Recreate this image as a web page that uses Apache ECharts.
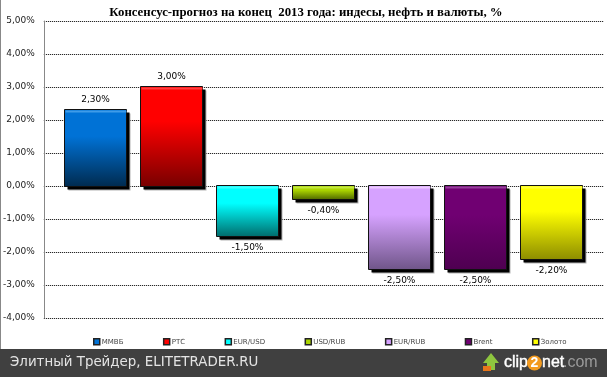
<!DOCTYPE html>
<html>
<head>
<meta charset="utf-8">
<style>
html, body { margin: 0; padding: 0; background: #fff; }
#chart { width: 607px; height: 377px; }
</style>
<script src="https://cdn.jsdelivr.net/npm/echarts@6/dist/echarts.min.js"></script>
</head>
<body>
<div id="chart"></div>
<script>
const chartTitle = 'Консенсус-прогноз на конец  2013 года: индесы, нефть и валюты, %'
const footerText = 'Элитный Трейдер, ELITETRADER.RU'
const categories = ['2013']
const names = ['ММВБ', 'РТС', 'EUR/USD', 'USD/RUB', 'EUR/RUB', 'Brent', 'Золото']
const values = [2.3, 3.0, -1.5, -0.4, -2.5, -2.5, -2.2]
const topColors = ['#0072d6', '#ff0000', '#00ffff', '#aad400', '#d6a2ff', '#700072', '#ffff00']
const bottomColors = ['#002a4e', '#770000', '#006a6a', '#4c6400', '#6f5588', '#4e0050', '#8c8c00']
const bevelColors = ['#3f9be8', '#ff4040', '#40ffff', '#c4e840', '#eccaff', '#94409a', '#ffff40']

const barWidth = 62
const barStep = 76

function percent(v) {
    return v.toFixed(2).replace('.', ',') + '%'
}

// bar with hard black shadow, a normal bar's shadow falls on top of its own fill
function drawBar(i) {
    return function (params, api) {
        let base = api.coord([api.value(0), 0])
        let end = api.coord([api.value(0), api.value(1)])
        let x = Math.round(base[0] + (i - 3) * barStep - barWidth / 2) - 0.5
        let y0 = Math.round(Math.min(base[1], end[1])) - 0.5
        let y1 = Math.round(Math.max(base[1], end[1])) + 0.5
        let h = y1 - y0
        let labelY = api.value(1) < 0 ? y1 + 11 : y0 - 10
        return {
            type: 'group',
            children: [
                { type: 'rect', shape: { x: x + 4, y: y0 + 4, width: barWidth, height: h }, style: { fill: '#b4b4b4' } },
                { type: 'rect', shape: { x: x + 3, y: y0 + 3, width: barWidth, height: h }, style: { fill: '#000' } },
                {
                    type: 'rect',
                    shape: { x: x, y: y0, width: barWidth, height: h },
                    style: {
                        fill: {
                            type: 'linear', x: 0, y: 0, x2: 0, y2: 1,
                            colorStops: [
                                { offset: 0, color: topColors[i] },
                                { offset: 0.35, color: topColors[i] },
                                { offset: 1, color: bottomColors[i] }
                            ]
                        },
                        stroke: '#111',
                        lineWidth: 1
                    }
                },
                { type: 'rect', shape: { x: x + 1, y: y0 + 1, width: barWidth - 1, height: 2 }, style: { fill: bevelColors[i] } },
                {
                    type: 'text',
                    style: {
                        text: percent(api.value(1)),
                        x: x + barWidth / 2,
                        y: labelY,
                        align: 'center',
                        verticalAlign: 'middle',
                        font: '9px "DejaVu Sans"',
                        fill: '#000'
                    }
                }
            ]
        }
    }
}

let chart = echarts.init(document.getElementById('chart'))
chart.setOption({
    animation: false,
    backgroundColor: '#fff',
    title: {
        text: chartTitle,
        left: 301,
        top: 1,
        textAlign: 'center',
        textStyle: {
            fontFamily: 'Liberation Serif',
            fontSize: 12.8,
            fontWeight: 'bold',
            color: '#000'
        }
    },
    legend: {
        left: 88,
        top: 333,
        itemWidth: 6,
        itemHeight: 6,
        itemGap: 39.5,
        icon: 'rect',
        data: names.map((name, i) => ({
            name: name,
            itemStyle: { color: topColors[i], borderColor: '#222', borderWidth: 1.5 }
        })),
        textStyle: {
            fontFamily: 'DejaVu Sans',
            fontSize: 7,
            color: '#444',
            padding: [0, 0, 0, -3]
        }
    },
    grid: { left: 41.5, right: 3, top: 21, bottom: 59 },
    xAxis: {
        type: 'category',
        data: categories,
        axisLine: { show: false },
        axisTick: { show: false },
        axisLabel: { show: false }
    },
    yAxis: {
        type: 'value',
        min: -4,
        max: 5,
        interval: 1,
        axisLine: { show: true, lineStyle: { color: '#888', width: 1 } },
        axisTick: { show: false },
        axisLabel: {
            formatter: percent,
            fontFamily: 'DejaVu Sans',
            fontSize: 9,
            color: '#222',
            margin: 9,
            padding: [2, 0, 0, 0]
        },
        splitLine: { lineStyle: { color: '#000', type: [1, 1], width: 1 } }
    },
    series: names.map((name, i) => ({
        name: name,
        type: 'custom',
        renderItem: drawBar(i),
        encode: { x: 0, y: 1 },
        clip: false,
        itemStyle: { color: topColors[i] },
        data: [[0, values[i]]]
    })),
    graphic: [
        { type: 'rect', shape: { x: 0, y: 0, width: 1, height: 349 }, style: { fill: '#888' }, z: 10 },
        { type: 'rect', shape: { x: 0, y: 349, width: 607, height: 28 }, style: { fill: '#404040' }, z: 10 },
        { type: 'text', z: 11, style: { x: 10, y: 363, text: footerText, fill: '#e4e4e4', verticalAlign: 'middle', font: '13.4px "DejaVu Sans"' } },
        {
            type: 'polygon', z: 11,
            shape: { points: [[483, 363], [491, 353], [499, 363], [495, 363], [495, 370], [487, 370], [487, 363]] },
            style: { fill: '#8ec63f' }
        },
        { type: 'rect', z: 11, shape: { x: 483, y: 366, width: 8, height: 5 }, style: { fill: '#e8761a' } },
        { type: 'text', z: 11, style: { x: 504, y: 363, text: 'clip', fill: '#fff', stroke: '#fff', lineWidth: 0.4, verticalAlign: 'middle', font: '16px "Liberation Sans"' } },
        { type: 'circle', z: 11, shape: { cx: 534.5, cy: 363, r: 7.5 }, style: { fill: '#f39a1e' } },
        { type: 'text', z: 12, style: { x: 534.5, y: 363, text: '2', fill: '#fff', align: 'center', verticalAlign: 'middle', font: 'bold 14px "Liberation Sans"' } },
        { type: 'text', z: 11, style: { x: 542, y: 363, text: 'net', fill: '#fff', stroke: '#fff', lineWidth: 0.4, verticalAlign: 'middle', font: '16px "Liberation Sans"' } },
        { type: 'text', z: 11, style: { x: 563, y: 363, text: '.com', fill: '#9a9a9a', verticalAlign: 'middle', font: '16px "Liberation Sans"' } }
    ]
})
</script>
</body>
</html>
